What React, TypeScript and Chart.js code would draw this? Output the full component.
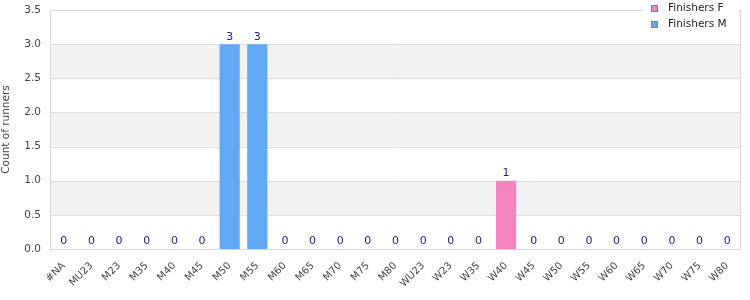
import React, { useEffect, useRef } from "react";
import { Chart, registerables } from "chart.js";

Chart.register(...registerables);

const categories = ["#NA","MU23","M23","M35","M40","M45","M50","M55","M60","M65","M70","M75","M80","WU23","W23","W35","W40","W45","W50","W55","W60","W65","W70","W75","W80"];
const finishersF = [0,0,0,0,0,0,0,0,0,0,0,0,0,0,0,0,1,0,0,0,0,0,0,0,0];
const finishersM = [0,0,0,0,0,0,3,3,0,0,0,0,0,0,0,0,0,0,0,0,0,0,0,0,0];
const yTicksMax = 3.5;
const bands = [[0.5, 1], [1.5, 2], [2.5, 3]];

const FONT = "'DejaVu Sans', sans-serif";
const PINK = "#f384bd";
const BLUE = "#62a9f5";

const decorPlugin = {
  id: "decor",
  beforeDatasetsDraw(chart: any) {
    const { ctx, chartArea, scales } = chart;
    const y = scales.y;
    ctx.save();
    ctx.fillStyle = "#f2f2f2";
    for (const [a, b] of bands) {
      const y1 = y.getPixelForValue(b);
      const y2 = y.getPixelForValue(a);
      ctx.fillRect(chartArea.left, y1, chartArea.right - chartArea.left, y2 - y1);
    }
    ctx.strokeStyle = "#dddddd";
    ctx.lineWidth = 1;
    for (let v = 0.5; v <= yTicksMax; v += 0.5) {
      const py = Math.round(y.getPixelForValue(v)) + 0.5;
      ctx.beginPath();
      ctx.moveTo(chartArea.left, py);
      ctx.lineTo(chartArea.right, py);
      ctx.stroke();
    }
    ctx.restore();
  },
  afterDatasetsDraw(chart: any) {
    const { ctx, chartArea, scales } = chart;
    ctx.save();
    ctx.strokeStyle = "#d6d6d6";
    ctx.lineWidth = 1;
    ctx.strokeRect(Math.round(chartArea.left) + 0.5, Math.round(chartArea.top) + 0.5,
      Math.round(chartArea.right - chartArea.left) - 1, Math.round(chartArea.bottom - chartArea.top));
    ctx.fillStyle = "#22228c";
    ctx.font = "11px " + FONT;
    ctx.textAlign = "center";
    ctx.textBaseline = "bottom";
    categories.forEach((c, i) => {
      const total = finishersF[i] + finishersM[i];
      const px = scales.x.getPixelForValue(i);
      const py = scales.y.getPixelForValue(total);
      ctx.fillText(String(total), px, py - 2);
    });
    const lx = 643, ly = 0, lw = 95, lh = 34;
    ctx.fillStyle = "#ffffff";
    ctx.fillRect(lx, ly, lw, lh);
    const items = [["Finishers F", PINK], ["Finishers M", BLUE]];
    items.forEach(([label, color], k) => {
      const by = 5 + k * 16;
      ctx.fillStyle = color;
      ctx.fillRect(651, by, 7, 7);
      ctx.strokeStyle = "#808080";
      ctx.strokeRect(651.5, by + 0.5, 6, 6);
      ctx.fillStyle = "#222222";
      ctx.font = "10.5px " + FONT;
      ctx.textAlign = "left";
      ctx.textBaseline = "middle";
      ctx.fillText(label, 668, by + 3.5);
    });
    ctx.restore();
  },
};

export default function App() {
  const ref = useRef<HTMLCanvasElement>(null);
  useEffect(() => {
    document.body.style.margin = "0";
    const chart = new Chart(ref.current!, {
      type: "bar",
      data: {
        labels: categories,
        datasets: [
          { label: "Finishers F", data: finishersF, backgroundColor: PINK, barPercentage: 0.73, categoryPercentage: 1 },
          { label: "Finishers M", data: finishersM, backgroundColor: BLUE, barPercentage: 0.73, categoryPercentage: 1 },
        ],
      },
      options: {
        animation: false,
        responsive: false,
        layout: { padding: { top: 10, right: 9, left: 0, bottom: 0 } },
        plugins: { legend: { display: false }, tooltip: { enabled: false } },
        scales: {
          x: {
            stacked: true,
            grid: { display: false, drawTicks: false },
            border: { display: false },
            ticks: { color: "#444", font: { family: FONT, size: 10 }, maxRotation: 45, minRotation: 45, autoSkip: false, padding: 11 },
            afterFit(s: any) { s.height = 51; s.paddingLeft = 0; s.paddingRight = 0; },
          },
          y: {
            stacked: true,
            min: 0,
            max: yTicksMax,
            grid: { display: false, drawTicks: false },
            border: { display: false },
            ticks: { stepSize: 0.5, color: "#444", font: { family: FONT, size: 10.5 }, padding: 9, callback: (v: any) => Number(v).toFixed(1) },
            title: { display: true, text: "Count of runners", color: "#444", font: { family: FONT, size: 10.5 }, padding: 0 },
            afterFit(s: any) { s.width = 50; s.paddingTop = 0; s.paddingBottom = 0; },
          },
        },
      },
      plugins: [decorPlugin],
    });
    return () => chart.destroy();
  }, []);
  return <canvas ref={ref} width={750} height={300} style={{ display: "block" }} />;
}
